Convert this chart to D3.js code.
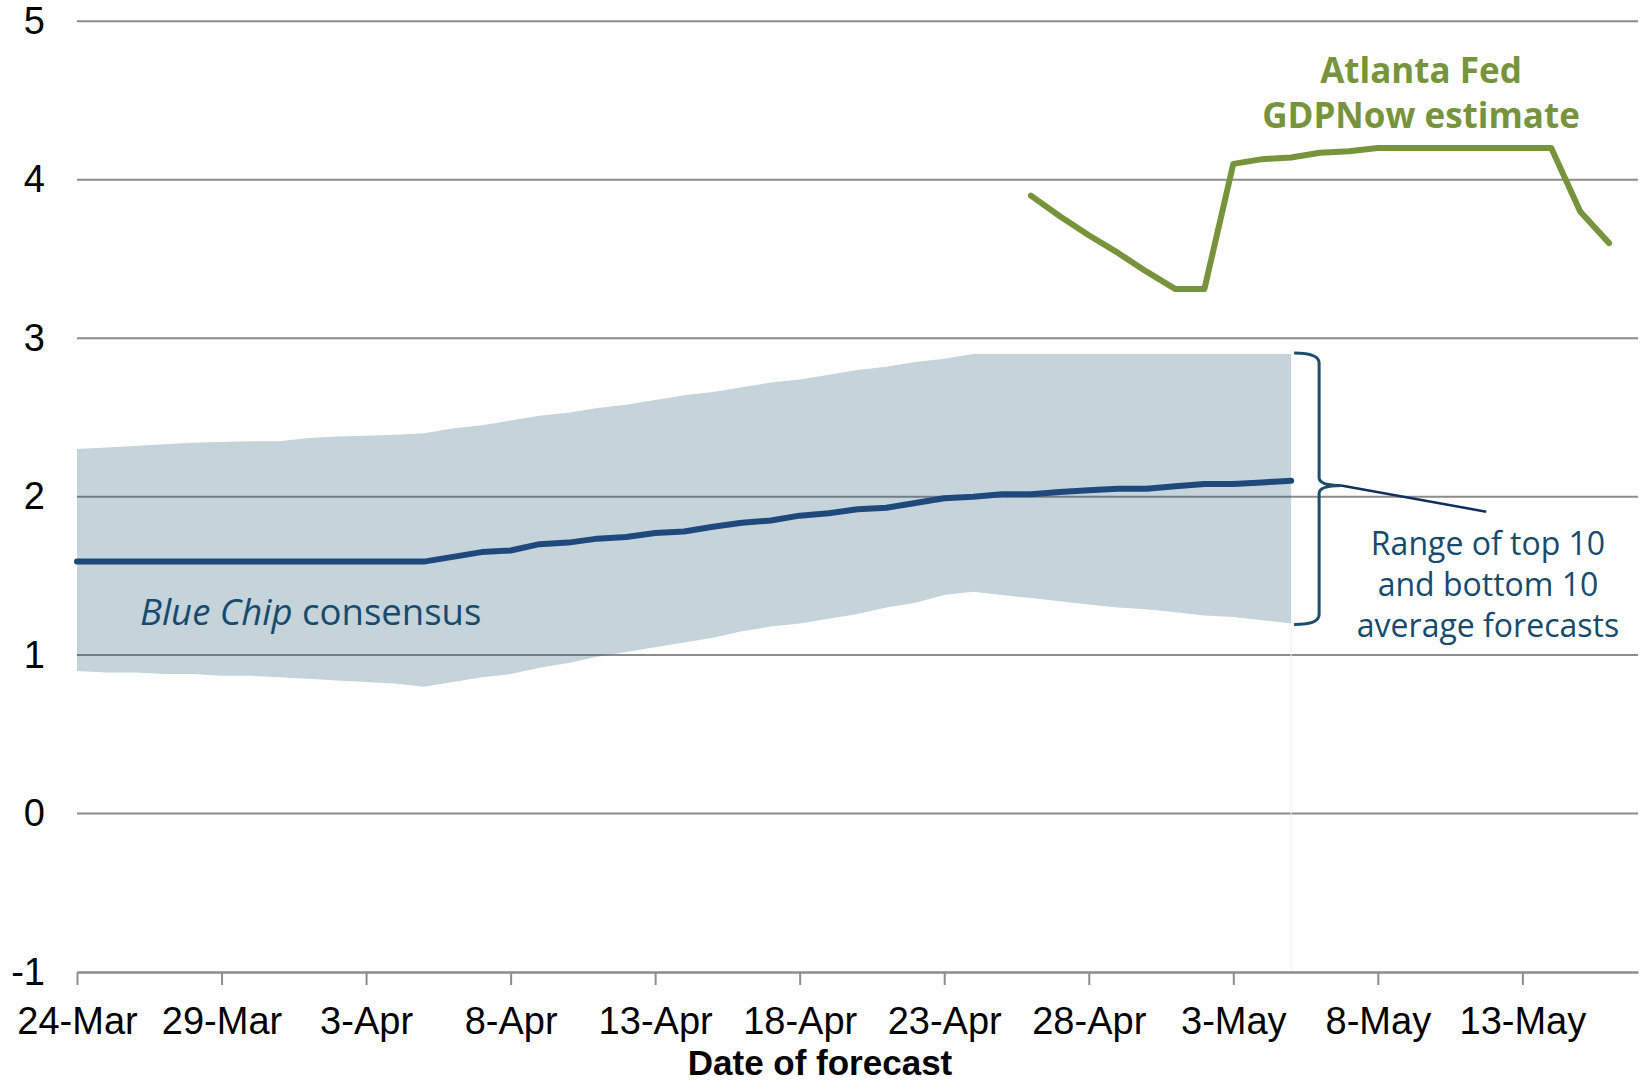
<!DOCTYPE html>
<html>
<head>
<meta charset="utf-8">
<script src="https://cdn.jsdelivr.net/npm/d3@7"></script>
<style>
    body { margin: 0; background: #fff; }
    svg { display: block; font-family: "Open Sans", sans-serif; }
    .axis text, .axis-title { font-family: "Liberation Sans", Arial, sans-serif; fill: #000; }
</style>
</head>
<body>
<svg id="chart" width="1650" height="1083"></svg>
<script>
//  Data ---
var consensusStart = "2024-03-24";
var consensus = [1.59, 1.59, 1.59, 1.59, 1.59, 1.59, 1.59, 1.59, 1.59, 1.59, 1.59, 1.59, 1.59,
    1.62, 1.65, 1.66, 1.70, 1.71, 1.735, 1.745, 1.77, 1.78, 1.81, 1.835, 1.85, 1.88, 1.895, 1.92, 1.93,
    1.96, 1.99, 2.00, 2.015, 2.015, 2.03, 2.04, 2.05, 2.05, 2.065, 2.08, 2.08, 2.09, 2.10];
var rangeTop = [2.30, 2.31, 2.32, 2.33, 2.34, 2.345, 2.35, 2.35, 2.37, 2.38, 2.385, 2.39, 2.40,
    2.43, 2.45, 2.48, 2.51, 2.53, 2.56, 2.58, 2.61, 2.64, 2.66, 2.69, 2.72, 2.74, 2.77, 2.80, 2.82,
    2.85, 2.87, 2.90, 2.90, 2.90, 2.90, 2.90, 2.90, 2.90, 2.90, 2.90, 2.90, 2.90, 2.90];
var rangeBottom = [0.90, 0.89, 0.89, 0.88, 0.88, 0.87, 0.87, 0.86, 0.85, 0.84, 0.83, 0.82, 0.80,
    0.83, 0.86, 0.88, 0.92, 0.95, 0.99, 1.02, 1.05, 1.08, 1.11, 1.15, 1.18, 1.20, 1.23, 1.26, 1.30,
    1.33, 1.38, 1.40, 1.38, 1.36, 1.34, 1.32, 1.30, 1.29, 1.27, 1.25, 1.24, 1.22, 1.20];
var gdpNowStart = "2024-04-26";
var gdpNow = [3.90, 3.77, 3.65, 3.54, 3.42, 3.31, 3.31, 4.10, 4.13, 4.14, 4.17, 4.18,
    4.20, 4.20, 4.20, 4.20, 4.20, 4.20, 4.20, 3.80, 3.60];
var tickDates = ["2024-03-24", "2024-03-29", "2024-04-03", "2024-04-08", "2024-04-13", "2024-04-18",
    "2024-04-23", "2024-04-28", "2024-05-03", "2024-05-08", "2024-05-13"];
var yTicks = [-1, 0, 1, 2, 3, 4, 5];

var parse = d3.utcParse("%Y-%m-%d");
function daily(start, values) {
    var d0 = parse(start);
    return values.map(function (v, i) { return { date: d3.utcDay.offset(d0, i), value: v }; });
}
var consensusData = daily(consensusStart, consensus);
var bandData = daily(consensusStart, rangeTop).map(function (d, i) {
    return { date: d.date, top: d.value, bottom: rangeBottom[i] };
});
var gdpNowData = daily(gdpNowStart, gdpNow);

//  Layout ---
var svg = d3.select("#chart");
var x = d3.scaleUtc()
    .domain([parse("2024-03-24"), parse("2024-05-17")])
    .range([77, 1638])
    ;
var y = d3.scaleLinear()
    .domain([-1, 5])
    .range([972, 21.3])
    ;

//  Grid ---
svg.append("g")
    .selectAll("line")
    .data(yTicks.filter(function (t) { return t > -1; }))
    .enter().append("line")
    .attr("x1", x.range()[0])
    .attr("x2", x.range()[1])
    .attr("y1", function (d) { return y(d); })
    .attr("y2", function (d) { return y(d); })
    .attr("stroke", "#8c8c8c")
    .attr("stroke-width", 2)
    ;

//  Band ---
var last = bandData[bandData.length - 1];
svg.append("line")
    .attr("x1", x(last.date)).attr("x2", x(last.date))
    .attr("y1", y(last.bottom)).attr("y2", y(-1))
    .attr("stroke", "#f0f0f0")
    .attr("stroke-width", 1)
    ;
svg.append("path")
    .datum(bandData)
    .attr("fill", "#1d5675")
    .attr("fill-opacity", 0.26)
    .attr("d", d3.area()
        .x(function (d) { return x(d.date); })
        .y0(function (d) { return y(d.bottom); })
        .y1(function (d) { return y(d.top); }))
    ;

//  Axes ---
var xAxis = svg.append("g")
    .attr("class", "axis")
    .attr("transform", "translate(0," + y(-1) + ")")
    .call(d3.axisBottom(x)
        .tickValues(tickDates.map(parse))
        .tickFormat(d3.utcFormat("%-d-%b"))
        .tickSize(13)
        .tickSizeOuter(0)
        .tickPadding(22))
    ;
xAxis.select(".domain").attr("stroke", "#8c8c8c").attr("stroke-width", 2.5);
xAxis.selectAll(".tick line").attr("stroke", "#8c8c8c").attr("stroke-width", 2);
xAxis.selectAll(".tick text").attr("font-size", 38).attr("dy", "0.71em");

var yAxis = svg.append("g")
    .attr("class", "axis")
    .attr("transform", "translate(" + x.range()[0] + ",0)")
    .call(d3.axisLeft(y)
        .tickValues(yTicks)
        .tickFormat(function (d) { return String(d); })
        .tickSize(0)
        .tickPadding(32))
    ;
yAxis.select(".domain").remove();
yAxis.selectAll(".tick text").attr("font-size", 38);

svg.append("text")
    .attr("class", "axis-title")
    .attr("x", 820)
    .attr("y", 1075)
    .attr("text-anchor", "middle")
    .attr("font-size", 35)
    .attr("font-weight", "bold")
    .text("Date of forecast")
    ;

//  Lines ---
var line = d3.line()
    .x(function (d) { return x(d.date); })
    .y(function (d) { return y(d.value); })
    ;
svg.append("path")
    .datum(consensusData)
    .attr("fill", "none")
    .attr("stroke", "#1f497d")
    .attr("stroke-width", 6)
    .attr("stroke-linejoin", "round")
    .attr("stroke-linecap", "round")
    .attr("d", line)
    ;
svg.append("path")
    .datum(gdpNowData)
    .attr("fill", "none")
    .attr("stroke", "#77933c")
    .attr("stroke-width", 6)
    .attr("stroke-linejoin", "round")
    .attr("stroke-linecap", "round")
    .attr("d", line)
    ;

//  Annotations ---
var bx = x(last.date) + 3,
    bTop = y(last.top) - 1,
    bBot = y(last.bottom) + 1,
    bMid = y(2.07),
    bw = 25;
svg.append("path")
    .attr("fill", "none")
    .attr("stroke", "#1d4e6e")
    .attr("stroke-width", 3)
    .attr("d", "M" + bx + "," + bTop +
        "Q" + (bx + bw) + "," + bTop + " " + (bx + bw) + "," + (bTop + 10) +
        "L" + (bx + bw) + "," + (bMid - 8) +
        "Q" + (bx + bw) + "," + bMid + " " + (bx + bw + 22) + "," + bMid +
        "Q" + (bx + bw) + "," + bMid + " " + (bx + bw) + "," + (bMid + 8) +
        "L" + (bx + bw) + "," + (bBot - 10) +
        "Q" + (bx + bw) + "," + bBot + " " + bx + "," + bBot)
    ;
svg.append("line")
    .attr("x1", bx + bw + 22)
    .attr("y1", bMid)
    .attr("x2", x(d3.utcHour.offset(parse("2024-05-11"), 18)))
    .attr("y2", y(1.905))
    .attr("stroke", "#102f5e")
    .attr("stroke-width", 2.5)
    ;

var rangeNote = svg.append("text")
    .attr("text-anchor", "middle")
    .attr("font-size", 32)
    .attr("fill", "#174b6d")
    ;
["Range of top 10", "and bottom 10", "average forecasts"].forEach(function (t, i) {
    rangeNote.append("tspan")
        .attr("x", 1488)
        .attr("y", 555 + i * 41)
        .text(t);
});

var bcNote = svg.append("text")
    .attr("x", 140)
    .attr("y", 625)
    .attr("font-size", 36.5)
    .attr("fill", "#174b6d")
    ;
bcNote.append("tspan").attr("font-style", "italic").text("Blue Chip");
bcNote.append("tspan").text(" consensus");

var gdpNote = svg.append("text")
    .attr("text-anchor", "middle")
    .attr("font-size", 35)
    .attr("font-weight", "bold")
    .attr("fill", "#77933c")
    ;
["Atlanta Fed", "GDPNow estimate"].forEach(function (t, i) {
    gdpNote.append("tspan")
        .attr("x", 1421)
        .attr("y", 83 + i * 45)
        .text(t);
});
</script>
</body>
</html>
